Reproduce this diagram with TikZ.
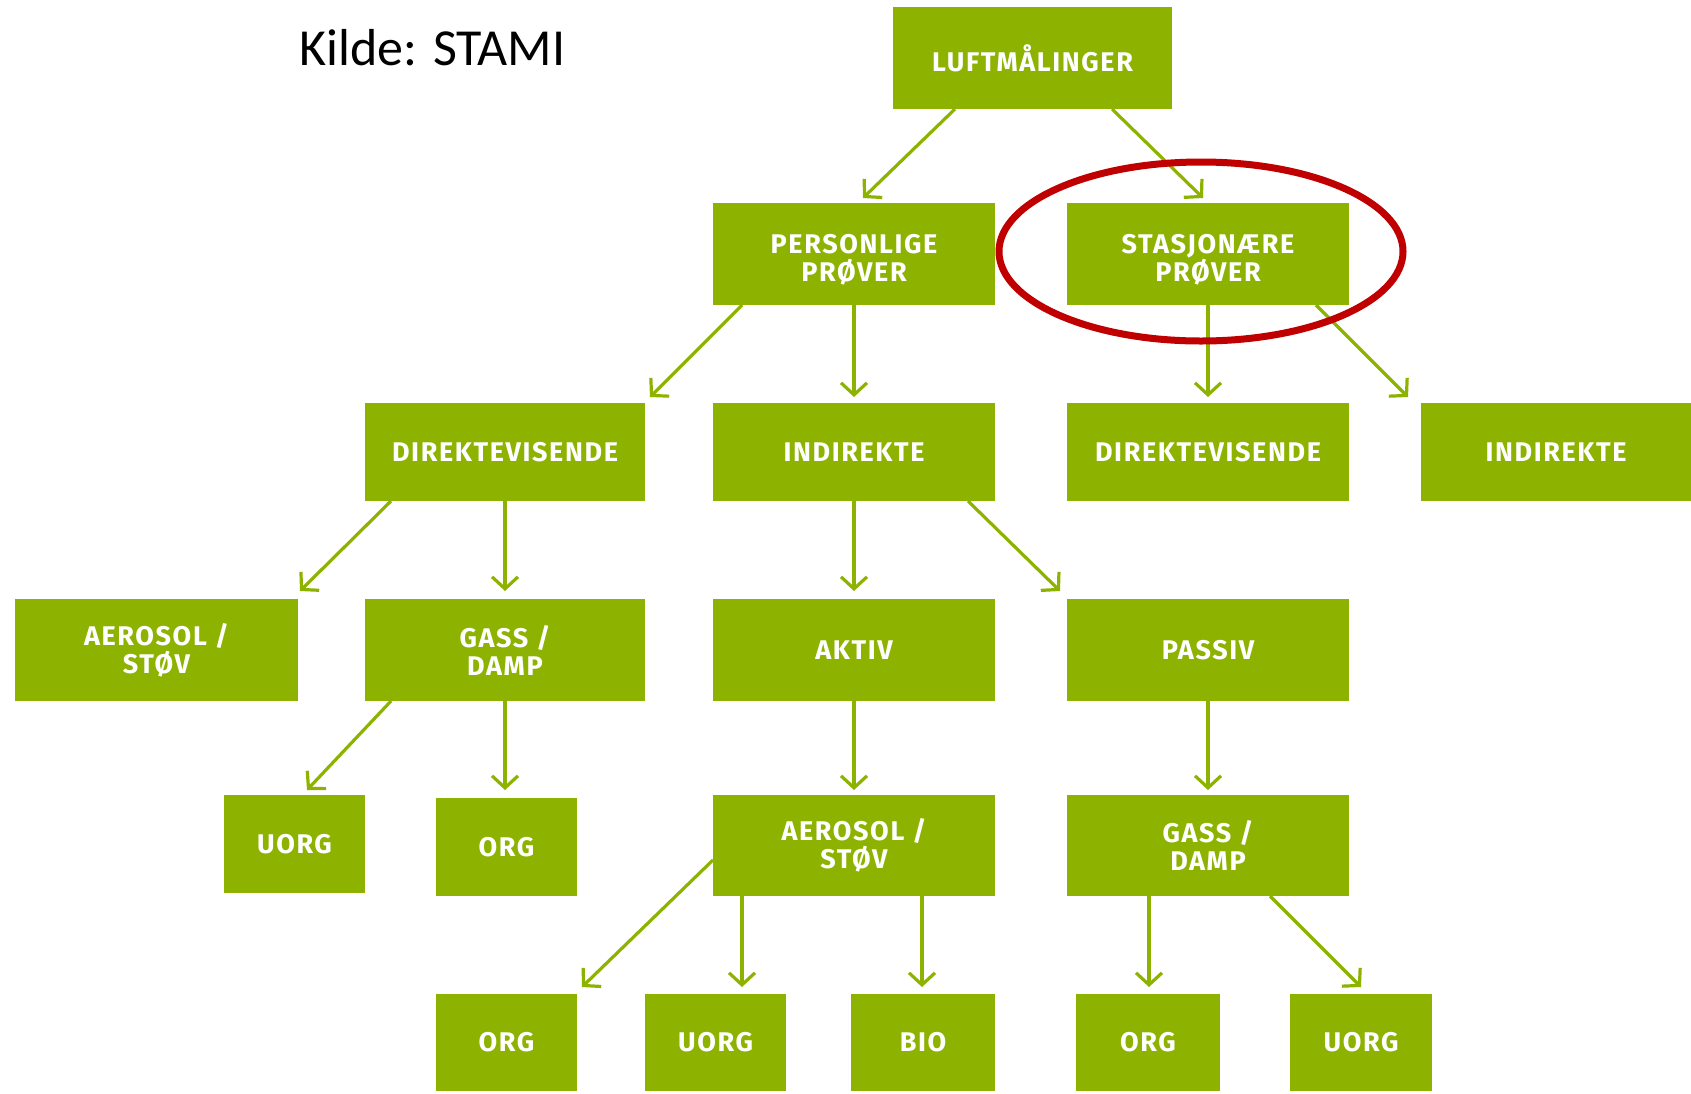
\documentclass[tikz,border=0pt]{standalone}
\usepackage{fontspec}
\setmainfont{Fira Sans}
\newfontfamily\kildefont{Carlito}
\newfontfamily\boxfont[LetterSpace=6]{Fira Sans}
\usetikzlibrary{arrows.meta,calc}
\definecolor{grn}{RGB}{141,179,0}
\definecolor{ringred}{RGB}{192,0,0}
\tikzset{
  box/.style={fill=grn, draw=none, inner sep=0pt, outer sep=0pt, text=white,
    align=center, font=\boxfont\bfseries\fontsize{13.5}{14}\selectfont},
  arr/.style={draw=grn, line width=1.6pt,
    -{Straight Barb[length=6pt,width=13pt,line width=1.6pt]}},
}
\begin{document}
\begin{tikzpicture}[x=0.5pt,y=-0.5pt]
\useasboundingbox (0,0) rectangle (1691,1093);
% title
\node[anchor=base west, inner sep=0pt, font=\kildefont\fontsize{26}{30}\selectfont] (kilde) at (299,65) {Kilde: STAMI};
% row 1
\node[box, minimum width=139.5pt, minimum height=51pt] (luft) at (1032.5,58) {LUFTMÅLINGER};
% row 2
\node[box, minimum width=141pt, minimum height=51pt] (pers) at (854,254) {\rule{0pt}{15pt}PERSONLIGE\\PRØVER};
\node[box, minimum width=141pt, minimum height=51pt] (stas) at (1208,254) {\rule{0pt}{15pt}STASJONÆRE\\PRØVER};
% row 3
\node[box, minimum width=140pt, minimum height=49pt] (dirL) at (505,452) {DIREKTEVISENDE};
\node[box, minimum width=141pt, minimum height=49pt] (indL) at (854,452) {INDIREKTE};
\node[box, minimum width=141pt, minimum height=49pt] (dirR) at (1208,452) {DIREKTEVISENDE};
\node[box, minimum width=135pt, minimum height=49pt] (indR) at (1556,452) {INDIREKTE};
% row 4
\node[box, minimum width=141.5pt, minimum height=51pt] (aer1) at (156.5,650) {AEROSOL /\\STØV};
\node[box, minimum width=140pt, minimum height=51pt] (gas1) at (505,650) {GASS /\\DAMP};
\node[box, minimum width=141pt, minimum height=51pt] (akt) at (854,650) {AKTIV};
\node[box, minimum width=141pt, minimum height=51pt] (pas) at (1208,650) {PASSIV};
% row 5
\node[box, minimum width=70.5pt, minimum height=49pt] (uorg1) at (294.5,844) {UORG};
\node[box, minimum width=70.5pt, minimum height=49pt] (org1) at (506.5,847) {ORG};
\node[box, minimum width=141pt, minimum height=50.5pt] (aer2) at (854,845.5) {AEROSOL /\\STØV};
\node[box, minimum width=141pt, minimum height=50.5pt] (gas2) at (1208,845.5) {GASS /\\DAMP};
% row 6
\node[box, minimum width=70.5pt, minimum height=48.5pt] (org2) at (506.5,1042.5) {ORG};
\node[box, minimum width=70.5pt, minimum height=48.5pt] (uorg2) at (715.5,1042.5) {UORG};
\node[box, minimum width=72pt, minimum height=48.5pt] (bio) at (923,1042.5) {BIO};
\node[box, minimum width=72pt, minimum height=48.5pt] (org3) at (1148,1042.5) {ORG};
\node[box, minimum width=71pt, minimum height=48.5pt] (uorg3) at (1361,1042.5) {UORG};
% arrows
\draw[arr] ($(luft.south west)+(62,0)$) -- ($(pers.north west)+(150,-5)$);
\draw[arr] ($(luft.south west)+(219,0)$) -- ($(stas.north west)+(136,-5)$);
\draw[arr] ($(pers.south west)+(29,0)$) -- ($(dirL.north west)+(285,-6)$);
\draw[arr] (pers.south) -- ($(indL.north)+(0,-6)$);
\draw[arr] (stas.south) -- ($(dirR.north)+(0,-6)$);
\draw[arr] ($(stas.south west)+(249,0)$) -- ($(indR.north west)+(-13,-6)$);
\draw[arr] ($(dirL.south west)+(26,0)$) -- ($(aer1.north west)+(285,-8)$);
\draw[arr] (dirL.south) -- ($(gas1.north)+(0,-8)$);
\draw[arr] (indL.south) -- ($(akt.north)+(0,-8)$);
\draw[arr] ($(indL.south west)+(255,0)$) -- ($(pas.north west)+(-7,-8)$);
\draw[arr] ($(gas1.south west)+(26,0)$) -- ($(uorg1.north west)+(83,-5)$);
\draw[arr] (gas1.south) -- ($(gas1.south |- org1.north)+(0,-8)$);
\draw[arr] (akt.south) -- ($(aer2.north)+(0,-5)$);
\draw[arr] (pas.south) -- ($(gas2.north)+(0,-5)$);
\draw[arr] ($(aer2.north west)+(0,65)$) -- ($(org2.north west)+(146,-7)$);
\draw[arr] ($(aer2.south west)+(29,0)$) -- ($(uorg2.north west)+(97,-7)$);
\draw[arr] ($(aer2.south west)+(209,0)$) -- ($(bio.north west)+(71,-7)$);
\draw[arr] ($(gas2.south west)+(82,0)$) -- ($(org3.north west)+(73,-7)$);
\draw[arr] ($(gas2.south west)+(203,0)$) -- ($(uorg3.north west)+(71,-7)$);
% highlight ring
\draw[ringred, line width=3.5pt] (1201,251.5) ellipse [x radius=202, y radius=89.5];
\end{tikzpicture}
\end{document}
